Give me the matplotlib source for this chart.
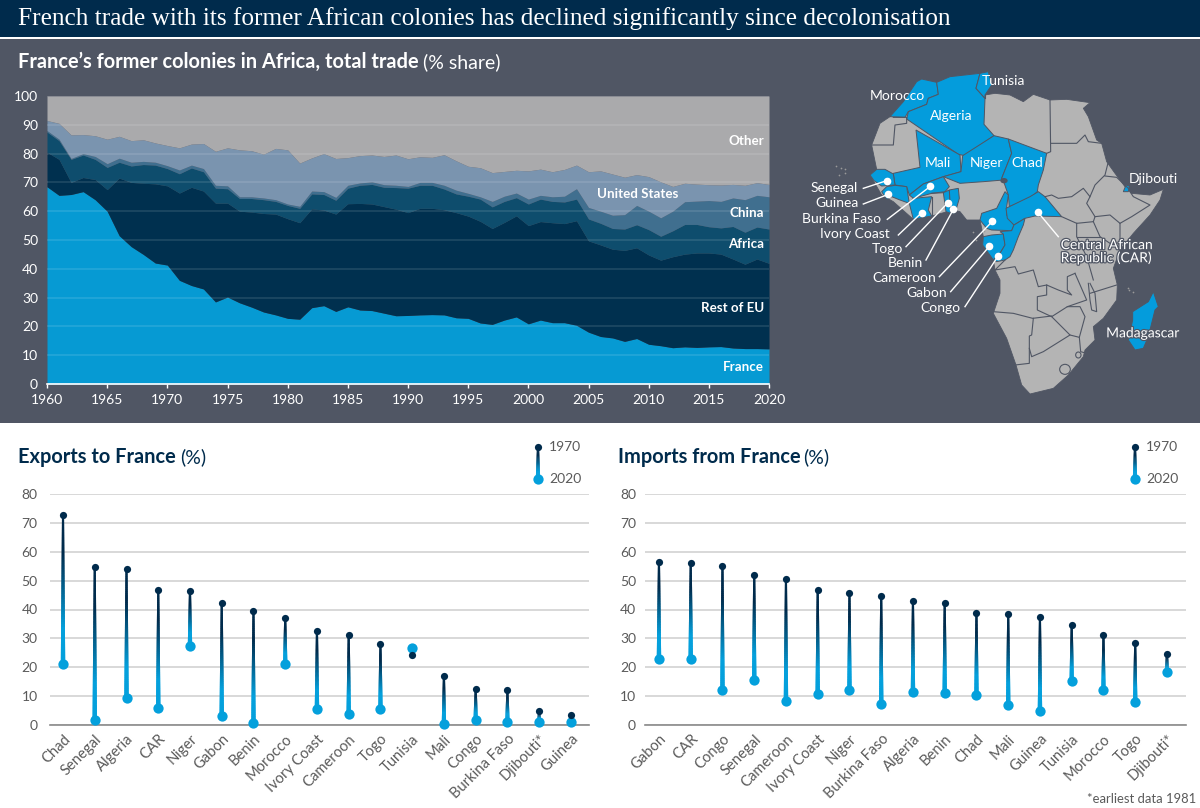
import numpy as np
import matplotlib
matplotlib.use("Agg")
import matplotlib.pyplot as plt
from matplotlib.collections import LineCollection
from matplotlib.colors import to_rgb
from matplotlib.patches import Polygon, Rectangle, Ellipse
import matplotlib.patheffects as pe

plt.rcParams['font.family'] = ['Lato', 'DejaVu Sans']

# area chart, read as the top edge of each band
years = list(range(1960, 2021))
france_top = [68.5, 65.5, 65.8, 66.8, 64, 60, 51.5, 47.7, 45, 42, 41.3, 36, 34.2, 33, 28.5, 30.2, 28.2, 26.7, 25, 24,
              22.8, 22.5, 26.5, 27.2, 25.2, 26.8, 25.7, 25.5, 24.6, 23.7, 23.8, 24, 24.1, 24, 23, 22.8, 21.2, 20.7, 22.2, 23.3,
              20.9, 22.2, 21.3, 21.3, 20.4, 18, 16.5, 16, 14.8, 15.8, 13.8, 13.3, 12.6, 12.9, 12.7, 12.9, 13, 12.5, 12.3, 12.3, 12.2]
eu_top = [80.5, 78, 70, 71.7, 71, 67.5, 71.5, 70, 69.7, 69.5, 68.8, 66.3, 68.3, 67, 62.8, 62.8, 60, 59.7, 59.2, 59,
          57.4, 56, 60.8, 60.4, 59, 62.6, 62.7, 62.5, 61.6, 60.7, 59.5, 61, 61, 60.5, 59.5, 58.3, 56.5, 54, 56.1, 58.4,
          55, 56.4, 56, 55.7, 56.7, 49.7, 48.3, 46.8, 46.4, 47.3, 44.8, 43, 44.2, 45.1, 45.5, 45.5, 45.1, 43.4, 41.6, 43.4, 41.9]
africa_top = [87.5, 84.5, 78, 79.5, 78, 75.2, 77, 75.7, 76.2, 76, 74.8, 73, 75, 73.7, 68, 67.8, 64.4, 64.4, 64, 63.4,
              62, 61, 66, 65.8, 63.8, 68, 69, 69.3, 68.3, 68.2, 68, 69, 69, 67.7, 66, 65.2, 64.2, 61.5, 63.4, 64.7,
              62.5, 64.2, 63.4, 63.2, 64.2, 57.3, 55.8, 54, 53.8, 55.3, 53.6, 51.3, 53.2, 55.4, 55.4, 54.6, 54.2, 54.7, 52.7, 54.5, 53.8]
china_top = [88, 85, 78.3, 80, 79, 76.5, 78.4, 77, 77.3, 77, 75.8, 74.3, 76, 74.8, 69, 68.8, 65, 65, 64.6, 64,
             62.5, 61.7, 67, 66.8, 64.8, 69, 69.8, 70.2, 69.2, 69, 68.6, 70, 70, 69, 67.3, 66.2, 65, 63.4, 65.2, 66.3,
             64.2, 65.5, 65, 65.2, 67.8, 61.3, 60, 58.6, 58.8, 62, 60, 57.7, 60, 63.3, 63.5, 63.7, 63.4, 64.6, 64, 65.5, 65]
us_top = [91.5, 90.5, 86.5, 86.6, 86.2, 85, 86, 84.5, 84.8, 83.7, 82.8, 82, 83.3, 83.5, 80.8, 82, 81.3, 81, 79.8, 81.8,
          81.3, 76.7, 78.5, 80, 78.3, 78.6, 79.3, 79.5, 79, 79.5, 78.2, 78.9, 78.7, 79.6, 77.5, 75.6, 75.1, 73.4, 73.8, 74.2,
          74, 74.6, 73.7, 74.5, 76, 73.7, 74, 72.9, 71.8, 72.7, 72, 70.2, 68.6, 69.7, 69.4, 69.2, 69.1, 69.3, 69, 69.9, 69.3]

# lollipops
export_names = ['Chad', 'Senegal', 'Algeria', 'CAR', 'Niger', 'Gabon', 'Benin', 'Morocco', 'Ivory Coast', 'Cameroon',
                'Togo', 'Tunisia', 'Mali', 'Congo', 'Burkina Faso', 'Djibouti*', 'Guinea']
exports_1970 = [72.8, 54.7, 54, 46.8, 46.5, 42.2, 39.5, 37.2, 32.7, 31.3, 28, 24.2, 17, 12.6, 12, 4.7, 3.4]
exports_2020 = [21, 1.8, 9.4, 6, 27.4, 3, 0.7, 21, 5.7, 3.9, 5.5, 26.8, 0.3, 1.6, 1.2, 1, 1.2]

import_names = ['Gabon', 'CAR', 'Congo', 'Senegal', 'Cameroon', 'Ivory Coast', 'Niger', 'Burkina Faso', 'Algeria', 'Benin',
                'Chad', 'Mali', 'Guinea', 'Tunisia', 'Morocco', 'Togo', 'Djibouti*']
imports_1970 = [56.6, 56, 55.2, 52, 50.5, 46.8, 45.8, 44.8, 43, 42.2, 38.9, 38.4, 37.4, 34.5, 31, 28.5, 24.7]
imports_2020 = [22.7, 23, 12.2, 15.6, 8.4, 10.7, 12.1, 7.4, 11.4, 11, 10.4, 6.9, 5, 15.2, 12.1, 8.1, 18.2]

# map shapes, traced in a 1200x1020 box
africa_outline = [(240, 190), (270, 170), (310, 125), (350, 65), (365, 57), (410, 67), (450, 50), (540, 40), (565, 35), (575, 75),
                  (555, 105), (585, 100), (630, 105), (670, 125), (700, 103), (750, 120), (800, 118), (870, 128), (850, 145),
                  (865, 170), (890, 240), (905, 250), (920, 305), (945, 340), (975, 380), (995, 400), (1050, 405), (1090, 388),
                  (1080, 420), (1050, 465), (1000, 520), (960, 570), (940, 625), (952, 675), (950, 720), (910, 775), (880, 800),
                  (885, 840), (855, 870), (850, 890), (805, 945), (760, 985), (690, 1002), (665, 975), (648, 915), (620, 835),
                  (580, 760), (600, 700), (600, 660), (585, 630), (580, 600), (548, 555), (550, 530), (540, 480), (500, 480),
                  (480, 455), (460, 450), (395, 468), (340, 478), (280, 425), (245, 405), (210, 345), (230, 328), (215, 255)]
blue_countries = {
    'Morocco': [(270, 170), (310, 125), (350, 65), (365, 57), (410, 67), (415, 103), (385, 115), (380, 133), (325, 155), (315, 172)],
    'Algeria': [(325, 155), (380, 133), (385, 115), (415, 103), (410, 67), (450, 50), (540, 40), (528, 85), (555, 115), (552, 193),
                (582, 227), (495, 287), (475, 283), (320, 177)],
    'Tunisia': [(540, 40), (565, 35), (575, 75), (555, 105), (555, 115), (528, 85)],
    'Mali': [(348, 210), (480, 285), (483, 335), (430, 350), (370, 372), (328, 405), (320, 380), (285, 375), (280, 340), (360, 322)],
    'Niger': [(488, 287), (582, 227), (625, 237), (635, 280), (605, 355), (610, 360), (550, 365), (480, 370), (430, 350), (483, 335)],
    'Chad': [(625, 237), (740, 280), (730, 330), (715, 375), (712, 395), (690, 415), (628, 440), (625, 405), (610, 362), (605, 355), (635, 280)],
    'Senegal': [(210, 345), (230, 328), (255, 328), (280, 342), (285, 375), (245, 378), (222, 362)],
    'Guinea': [(245, 395), (260, 380), (285, 376), (320, 380), (328, 430), (300, 420), (275, 410), (260, 418)],
    'Burkina Faso': [(328, 405), (370, 372), (430, 350), (448, 380), (435, 395), (395, 400), (340, 415)],
    'Ivory Coast': [(328, 430), (340, 415), (395, 410), (385, 450), (395, 468), (340, 478)],
    'Togo': [(430, 398), (448, 390), (452, 460), (438, 455)],
    'Benin': [(448, 390), (475, 385), (478, 415), (465, 460), (452, 460)],
    'Cameroon': [(615, 395), (590, 445), (545, 460), (540, 480), (560, 505), (575, 510), (635, 512), (642, 495), (620, 465), (620, 440), (625, 405)],
    'CAR': [(618, 445), (628, 440), (690, 410), (715, 395), (735, 410), (785, 470), (705, 468), (675, 475), (642, 495), (622, 475)],
    'Gabon': [(575, 525), (610, 522), (615, 555), (600, 580), (580, 600), (548, 555), (550, 530)],
    'Congo': [(600, 515), (635, 512), (642, 495), (675, 475), (670, 495), (655, 530), (640, 570), (630, 590), (615, 600), (590, 605),
              (580, 600), (600, 580), (615, 555), (610, 522)],
    'Djibouti': [(970, 395), (978, 375), (988, 378), (985, 395)],
    'Madagascar': [(1060, 695), (1075, 740), (1065, 750), (1045, 830), (1030, 865), (1005, 870), (985, 840), (998, 780), (998, 755), (1045, 725)],
}
border_lines = [
    [(280, 172), (320, 172), (320, 190), (285, 195), (280, 255), (215, 255)],
    [(750, 120), (752, 275), (740, 280)],
    [(752, 250), (830, 250), (855, 225), (865, 245), (905, 250)],
    [(555, 105), (555, 115)],
    [(735, 410), (755, 405), (775, 415), (815, 410), (850, 385), (870, 410), (860, 430), (885, 470)],
    [(870, 410), (885, 375), (915, 345), (925, 305)],
    [(915, 348), (950, 352), (985, 385)],
    [(990, 395), (1000, 410), (1050, 435), (995, 470), (960, 490)],
    [(785, 470), (830, 490), (880, 485), (885, 470), (930, 465), (960, 490), (960, 550)],
    [(830, 490), (830, 530), (860, 590), (880, 660)],
    [(880, 485), (900, 530), (960, 570)],
    [(830, 530), (900, 530)],
    [(615, 600), (585, 630), (645, 620), (655, 642), (700, 630), (715, 680), (740, 675), (775, 690), (815, 705), (802, 690), (802, 650), (825, 640)],
    [(740, 675), (740, 705), (712, 710), (712, 750), (755, 770), (802, 740), (860, 720), (825, 640)],
    [(580, 755), (640, 760), (698, 775), (755, 768)],
    [(700, 775), (695, 825), (688, 828), (688, 910), (645, 915)],
    [(688, 865), (695, 890), (730, 875), (810, 825), (755, 770)],
    [(810, 825), (838, 832), (855, 770), (840, 740), (802, 740)],
    [(838, 832), (842, 875), (860, 880)],
    [(870, 700), (950, 675)],
    [(865, 670), (870, 720), (875, 750), (890, 755), (885, 700), (870, 670)],
    [(395, 400), (430, 398)],
    [(395, 468), (395, 410)],
]
island_x = [108, 122, 136, 118, 135, 988, 1000, 985, 552, 520, 528]
island_y = [318, 325, 328, 345, 340, 690, 695, 685, 512, 515, 540]
label_pts = [('Senegal', 172, 385, 190, 385, 260, 362), ('Guinea', 176, 430, 190, 432, 265, 403),
             ('Burkina Faso', 244, 476, 262, 478, 391, 379), ('Ivory Coast', 270, 521, 295, 525, 365, 458),
             ('Togo', 310, 566, 318, 560, 443, 429), ('Benin', 368, 610, 378, 600, 460, 448),
             ('Cameroon', 407, 655, 418, 650, 577, 484), ('Gabon', 440, 700, 452, 695, 568, 559),
             ('Congo', 482, 745, 495, 740, 595, 587)]
inside_labels = [('Morocco', 292, 107), ('Tunisia', 610, 62), ('Algeria', 453, 167), ('Mali', 413, 308), ('Niger', 560, 308),
                 ('Chad', 683, 308), ('Djibouti', 1060, 356)]

panel_bg = '#505664'
navy = '#002b4c'
dot_blue = '#04a0dc'
band_colors = ['#069ad3', '#00304f', '#0e4d6d', '#406f8f', '#7a94af', '#aaaaac']


def px_axes(left, top, right, bottom):
    return fig.add_axes([left / 1200, 1 - bottom / 808, (right - left) / 1200, (bottom - top) / 808])


def gradient_stem(ax, x, y_top, y_bot):
    # dark at the 1970 end, blue and a bit thicker at the 2020 end
    steps = np.linspace(0, 1, 61)
    ys = y_top + (y_bot - y_top) * steps
    segs = [[(x, ys[i]), (x, ys[min(i + 2, 60)])] for i in range(60)]
    c0 = np.array(to_rgb(navy))
    c1 = np.array(to_rgb(dot_blue))
    cols = [c0 + (c1 - c0) * min(1, max(0, (s - 0.25) / 0.5)) for s in steps[:-1]]
    widths = 1.5 + 1.7 * steps[:-1]
    lc = LineCollection(segs, colors=cols, linewidths=widths, capstyle='butt', zorder=3)
    lc.set_snap(False)
    ax.add_collection(lc)


def lollipops(ax, names, v1970, v2020, ypad):
    xs = np.arange(len(names))
    for x, a, b in zip(xs, v1970, v2020):
        gradient_stem(ax, x, a, b)
    ax.plot(xs, v2020, 'o', color=dot_blue, ms=7.4, mew=0, zorder=4, clip_on=False)
    ax.plot(xs, v1970, 'o', color=navy, ms=5.2, mew=0, zorder=5, clip_on=False)
    ax.set_ylim(0, 80)
    ax.set_yticks(range(0, 81, 10))
    ax.set_xticks(xs)
    ax.set_xticklabels(names, rotation=45, ha='right', rotation_mode='anchor')
    ax.grid(axis='y', color='#d2d2d2', lw=1.2)
    ax.set_axisbelow(True)
    for s in ['top', 'right', 'left']:
        ax.spines[s].set_visible(False)
    ax.spines['bottom'].set_color('#8a8a8a')
    ax.spines['bottom'].set_linewidth(1.2)
    ax.tick_params(axis='x', length=0, labelsize=10.6, labelcolor='#5a5a5a', pad=5)
    ax.tick_params(axis='y', length=0, labelsize=10, labelcolor='#5a5a5a', pad=ypad)


fig = plt.figure(figsize=(12, 8.08), dpi=100, facecolor='white')

# backdrop in pixel coordinates
bg = fig.add_axes([0, 0, 1, 1])
bg.set_xlim(0, 1200)
bg.set_ylim(808, 0)
bg.axis('off')
bg.add_patch(Rectangle((0, 0), 1200, 37, color=navy, lw=0))
bg.add_patch(Rectangle((0, 37), 1200, 2, color='white', lw=0))
bg.add_patch(Rectangle((0, 39), 1200, 384, color=panel_bg, lw=0))
bg.text(18, 19, 'French trade with its former African colonies has declined significantly since decolonisation',
        color='white', fontsize=18.2, va='center', family=['Liberation Serif', 'DejaVu Serif'])
bg.text(18, 62, 'France\u2019s former colonies in Africa, total trade', color='white', fontsize=14.4, weight='bold', va='center')
bg.text(423, 62, '(% share)', color='white', fontsize=14, va='center')
bg.text(18, 457, 'Exports to France', color=navy, fontsize=14.4, weight='bold', va='center')
bg.text(180, 457, '(%)', color=navy, fontsize=14, va='center')
bg.text(618, 457, 'Imports from France', color=navy, fontsize=14.4, weight='bold', va='center')
bg.text(803, 457, '(%)', color=navy, fontsize=14, va='center')
bg.text(1196, 799, '*earliest data 1981', color='#5a5a5a', fontsize=9.4, ha='right', va='center')

# legends for the two lollipop charts
for lx in [538, 1135]:
    gradient_stem(bg, lx, 447, 479)
    bg.plot([lx], [479], 'o', color=dot_blue, ms=7.4, mew=0, zorder=4)
    bg.plot([lx], [447], 'o', color=navy, ms=5.2, mew=0, zorder=5)
    bg.text(lx + 11, 447, '1970', color='#5a5a5a', fontsize=10, va='center')
    bg.text(lx + 11, 479, '2020', color='#5a5a5a', fontsize=10, va='center')

# stacked area
ax = px_axes(47, 96, 769, 384)
ax.patch.set_alpha(0)
bands = [np.zeros(len(years)), france_top, eu_top, africa_top, china_top, us_top, np.full(len(years), 100)]
for i, col in enumerate(band_colors):
    ax.fill_between(years, bands[i], bands[i + 1], color=col, lw=0)
ax.set_xlim(1960, 2020)
ax.set_ylim(0, 100)
ax.set_xticks(range(1960, 2021, 5))
ax.set_yticks(range(0, 101, 10))
ax.grid(axis='y', color='white', alpha=0.12, lw=1.2)
for s in ['top', 'right', 'left']:
    ax.spines[s].set_visible(False)
ax.spines['bottom'].set_color('white')
ax.spines['bottom'].set_linewidth(1.2)
ax.tick_params(axis='x', colors='white', labelsize=10, length=3, width=1, pad=4)
ax.tick_params(axis='y', colors='white', labelsize=10, length=0, pad=6.5)
for label, yv in [('Other', 84.4), ('China', 59.5), ('Africa', 48.5), ('Rest of EU', 26.5), ('France', 6)]:
    ax.text(2019.6, yv, label, color='white', fontsize=9.6, weight='bold', ha='right', va='center')
ax.text(2012.5, 66, 'United States', color='white', fontsize=9.6, weight='bold', ha='right', va='center')

# map
m = px_axes(800, 60, 1200, 400)
m.set_xlim(0, 1200)
m.set_ylim(1020, 0)
m.axis('off')
m.add_patch(Polygon(africa_outline, closed=True, fc='#b4b4b4', ec=panel_bg, lw=0.6, zorder=1))
for name, pts in blue_countries.items():
    m.add_patch(Polygon(pts, closed=True, fc='#049cdc', ec=panel_bg, lw=0.7, zorder=2))
for line in border_lines:
    xs, ys = zip(*line)
    m.plot(xs, ys, color=panel_bg, lw=0.8, zorder=3)
m.add_patch(Ellipse((612, 362), 22, 16, fc=panel_bg, lw=0, zorder=3))
m.add_patch(Ellipse((795, 928), 32, 30, fc='#b4b4b4', ec=panel_bg, lw=0.8, zorder=3))
m.add_patch(Ellipse((835, 885), 16, 18, fc='#b4b4b4', ec=panel_bg, lw=0.8, zorder=3))
m.scatter(island_x, island_y, s=1.5, color='#9a9a9a', lw=0, zorder=2)
for name, tx, ty, lx, ly, dx, dy in label_pts:
    m.plot([lx, dx], [ly, dy], color='white', lw=1, zorder=4)
    m.plot([dx], [dy], 'o', color='white', ms=5.5, mew=0, zorder=5)
    m.text(tx, ty, name, color='white', fontsize=10, ha='right', va='center', zorder=6)
for name, tx, ty in inside_labels:
    m.text(tx, ty, name, color='white', fontsize=10, ha='center', va='center', zorder=6)
halo = [pe.withStroke(linewidth=1.8, foreground=panel_bg)]
m.plot([714, 775], [457, 530], color='white', lw=1, zorder=4)
m.plot([714], [457], 'o', color='white', ms=5.5, mew=0, zorder=5)
m.text(782, 575, 'Central African\nRepublic (CAR)', color='white', fontsize=10, va='center', linespacing=1.05, zorder=6, path_effects=halo)
m.text(1028, 820, 'Madagascar', color='white', fontsize=10, ha='center', va='center', zorder=6, path_effects=halo)

# bottom charts
exp_ax = px_axes(50, 494, 589, 725)
exp_ax.patch.set_alpha(0)
lollipops(exp_ax, export_names, exports_1970, exports_2020, 9)
exp_ax.set_xlim(-0.41, 16.57)

imp_ax = px_axes(645, 494, 1186, 725)
imp_ax.patch.set_alpha(0)
lollipops(imp_ax, import_names, imports_1970, imports_2020, 6.5)
imp_ax.set_xlim(-0.44, 16.6)

fig.savefig('out.png', dpi=100)
